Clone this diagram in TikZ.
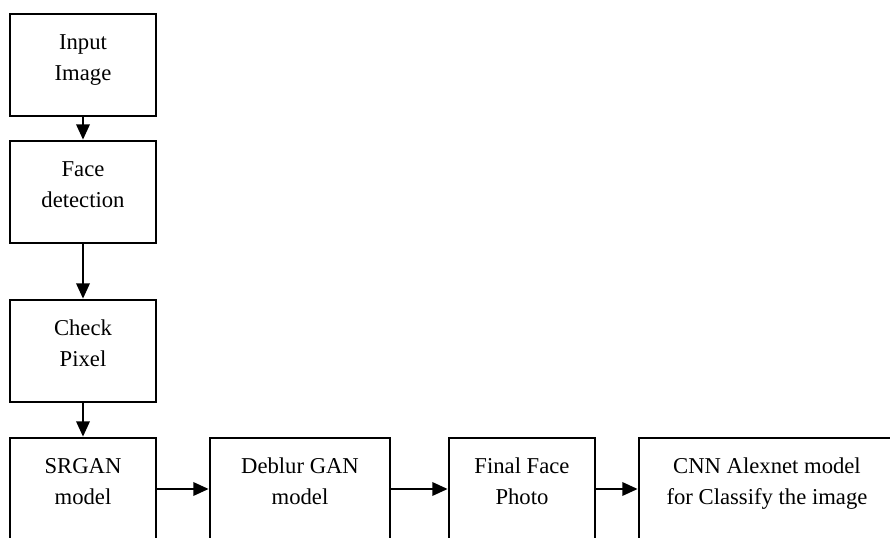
\documentclass[tikz,border=0pt]{standalone}
\usepackage{fontspec}
\setmainfont{Liberation Serif}
\usetikzlibrary{arrows.meta}

\begin{document}
\begin{tikzpicture}[x=0.75pt,y=-0.75pt,
		stepbox/.style={draw, line width=2pt, align=center, minimum height=76.5pt,
			text height=37pt, text depth=13pt, inner sep=0pt,
			font=\fontsize{17}{23.5}\selectfont},
		flow/.style={line width=1.8pt, -{Triangle[length=11.5pt,width=10pt]}}]
		
		\clip (0,0) rectangle (890,538);
		
		% column of steps
		\node [stepbox, minimum width=109.5pt] (input) at (83, 65) {Input\\Image};
		\node [stepbox, minimum width=109.5pt] (face) at (83, 192) {Face\\detection};
		\node [stepbox, minimum width=109.5pt] (check) at (83, 351) {Check\\Pixel};
		\node [stepbox, minimum width=109.5pt] (srgan) at (83, 489) {SRGAN\\model};
		
		% row of steps
		\node [stepbox, minimum width=135pt] (deblur) at (300, 489) {Deblur GAN\\model};
		\node [stepbox, minimum width=109.5pt] (final) at (522, 489) {Final Face\\Photo};
		\node [stepbox, minimum width=192pt] (cnn) at (767, 489) {CNN Alexnet model\\for Classify the image};
		
		% arrows
		\draw [flow] (input) -- (face);
		\draw [flow] (face) -- (check);
		\draw [flow] (check) -- (srgan);
		\draw [flow] (srgan) -- (deblur);
		\draw [flow] (deblur) -- (final);
		\draw [flow] (final) -- (cnn);
		
	\end{tikzpicture}
\end{document}
